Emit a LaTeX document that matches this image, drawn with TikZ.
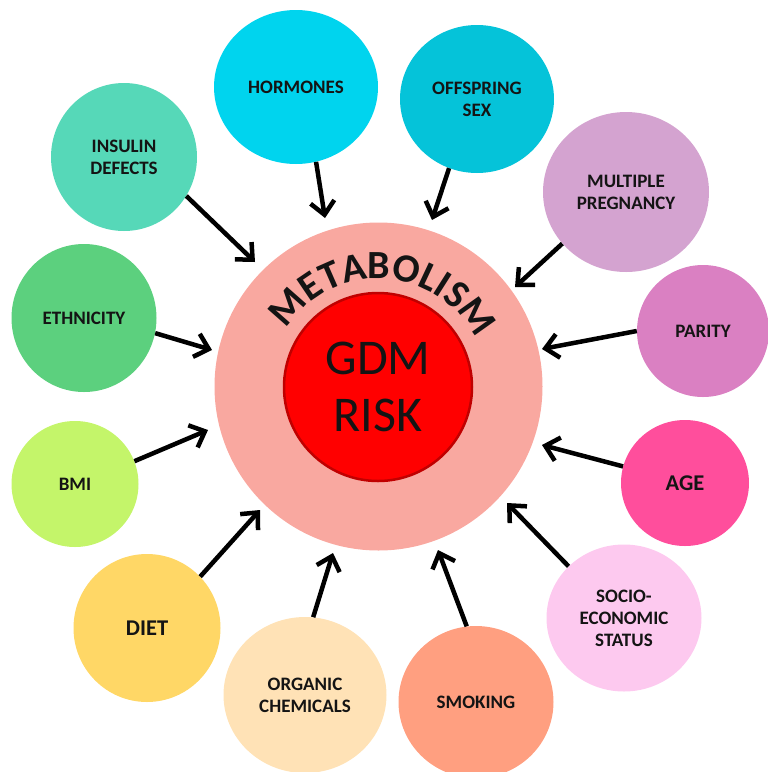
\documentclass[tikz,border=0pt]{standalone}
\usepackage{fontspec}
\setmainfont{Carlito}
\usetikzlibrary{shapes.geometric,arrows.meta,decorations.text}
\definecolor{cOuter}{HTML}{F9A8A0}
\definecolor{cInner}{HTML}{FF0000}
\definecolor{cInnerB}{HTML}{C00000}
\definecolor{cHorm}{HTML}{00D4EE}
\definecolor{cOff}{HTML}{05C3D9}
\definecolor{cIns}{HTML}{56D8B8}
\definecolor{cMul}{HTML}{D4A3D0}
\definecolor{cEth}{HTML}{5CD07E}
\definecolor{cPar}{HTML}{DA80C2}
\definecolor{cBmi}{HTML}{C4F56A}
\definecolor{cAge}{HTML}{FF4E9C}
\definecolor{cDiet}{HTML}{FFD766}
\definecolor{cSoc}{HTML}{FDC9EF}
\definecolor{cOrg}{HTML}{FFE2B6}
\definecolor{cSmk}{HTML}{FF9F80}
\definecolor{cTxt}{HTML}{141414}
\begin{document}
\begin{tikzpicture}[x=1pt,y=-1pt,
  sat/.style={ellipse, inner sep=0pt, align=center, text=cTxt,
    font=\fontsize{19}{22}\selectfont\bfseries},
  bigsat/.style={sat, font=\fontsize{22.5}{24}\selectfont\bfseries},
  arr/.style={line width=4.5pt, draw=black,
    -{Straight Barb[length=13pt,width=24pt]}}]
\useasboundingbox (0,0) rectangle (768,772);
% central circles
\node[circle, fill=cOuter, minimum size=328pt, inner sep=0pt] (metab) at (378.5,386.5) {};
\node[circle, fill=cInner, draw=cInnerB, line width=2.5pt, minimum size=188pt,
  inner sep=0pt, align=center, text=cTxt, font=\fontsize{50}{57}\selectfont] (gdm) at (378,387) {GDM\\RISK};
\path[decorate, decoration={text along path, text align=center,
  text color=cTxt,
  text={|\fontsize{40}{40}\selectfont\bfseries|METABOLISM}}]
  (metab.center) ++(-152:108) arc[start angle=-152, end angle=-22, radius=108];
% satellites
\node[sat, fill=cHorm, minimum width=164pt, minimum height=154pt] (horm) at (296,87) {HORMONES};
\node[sat, fill=cOff, minimum width=154pt, minimum height=148pt] (off) at (477,99) {OFFSPRING\\SEX};
\node[sat, fill=cIns, minimum width=146pt, minimum height=148pt] (ins) at (124,157) {INSULIN\\DEFECTS};
\node[sat, fill=cMul, minimum width=166pt, minimum height=160pt] (mul) at (626,192) {MULTIPLE\\PREGNANCY};
\node[sat, fill=cEth, minimum width=145pt, minimum height=148pt] (eth) at (84,318) {ETHNICITY};
\node[sat, fill=cPar, minimum width=132pt, minimum height=132pt] (par) at (703,331) {PARITY};
\node[sat, fill=cBmi, minimum width=127pt, minimum height=126pt] (bmi) at (75,484) {BMI};
\node[bigsat, fill=cAge, minimum width=128pt, minimum height=126pt] (age) at (685,483) {AGE};
\node[bigsat, fill=cDiet, minimum width=147pt, minimum height=148pt] (diet) at (147,628) {DIET};
\node[sat, fill=cSoc, minimum width=155pt, minimum height=147pt] (soc) at (624,618) {SOCIO-\\ECONOMIC\\STATUS};
\node[sat, fill=cOrg, minimum width=163pt, minimum height=156pt] (org) at (305,695) {ORGANIC\\CHEMICALS};
\node[sat, fill=cSmk, minimum width=155pt, minimum height=152pt] (smk) at (476,702) {SMOKING};
% arrow tips
\coordinate (tHorm) at (325,218);
\coordinate (tIns) at (255,262);
\coordinate (tOff) at (432,220);
\coordinate (tMul) at (515,287);
\coordinate (tEth) at (212,350);
\coordinate (tPar) at (542,349);
\coordinate (tBmi) at (208,430);
\coordinate (tDiet) at (260,510);
\coordinate (tAge) at (542,445);
\coordinate (tSoc) at (507,503);
\coordinate (tOrg) at (333,553);
\coordinate (tSmk) at (438,550);
% arrows
\draw[arr] (horm.-75) -- (tHorm);
\draw[arr] (ins.-32) -- (tIns);
\draw[arr] (off.-112) -- (tOff);
\draw[arr] (mul.-141) -- (tMul);
\draw[arr] (eth.-12) -- (tEth);
\draw[arr] (par.180) -- (tPar);
\draw[arr] (bmi.21) -- (tBmi);
\draw[arr] (diet.44) -- (tDiet);
\draw[arr] (age.165) -- (tAge);
\draw[arr] (soc.137) -- (tSoc);
\draw[arr] (org.84) -- (tOrg);
\draw[arr] (smk.97) -- (tSmk);
\end{tikzpicture}
\end{document}
